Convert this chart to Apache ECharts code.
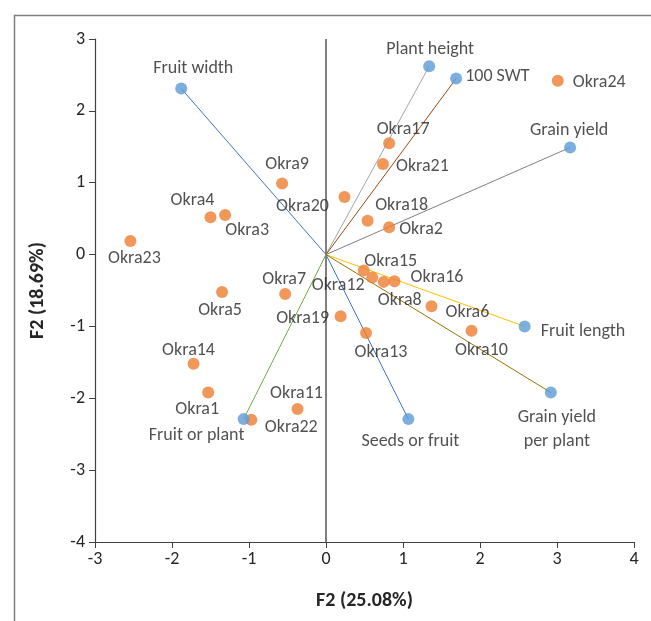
<!DOCTYPE html>
<html>
<head>
<meta charset="utf-8">
<script src="https://cdn.jsdelivr.net/npm/echarts@6/dist/echarts.min.js"></script>
<style>html,body{margin:0;padding:0;background:#fff;}#c{width:651px;height:621px;}</style>
</head>
<body>
<div id="c"></div>
<script>
// Observations (genotypes)
const okraNames = ['Okra1','Okra2','Okra3','Okra4','Okra5','Okra6','Okra7','Okra8','Okra9','Okra10','Okra11','Okra12','Okra13','Okra14','Okra15','Okra16','Okra17','Okra18','Okra19','Okra20','Okra21','Okra22','Okra23','Okra24'];
const okraX = [-1.53, 0.82, -1.31, -1.50, -1.35, 1.37, -0.53, 0.75, -0.57, 1.89, -0.37, 0.60, 0.52, -1.72, 0.49, 0.89, 0.82, 0.54, 0.19, 0.24, 0.74, -0.97, -2.54, 3.01];
const okraY = [-1.92, 0.38, 0.55, 0.52, -0.52, -0.72, -0.55, -0.38, 0.99, -1.06, -2.15, -0.32, -1.09, -1.52, -0.22, -0.37, 1.55, 0.47, -0.86, 0.80, 1.26, -2.30, 0.19, 2.42];
// Variables (loadings)
const varNames = ['Plant height','100 SWT','Fruit width','Grain yield','Fruit length','Grain yield\nper plant','Seeds or fruit','Fruit or plant'];
const varX = [1.34, 1.69, -1.88, 3.17, 2.58, 2.92, 1.07, -1.07];
const varY = [2.62, 2.45, 2.31, 1.49, -1.00, -1.92, -2.29, -2.29];
const varLineColors = ['#A5A5A5','#9E480E','#4472C4','#7F7F7F','#FFC000','#997300','#4472C4','#70AD47'];
// Axis ticks
const xTicks = [-3,-2,-1,0,1,2,3,4];
const yTicks = [-4,-3,-2,-1,0,1,2,3];
const xTitle = 'F2 (25.08%)';
const yTitle = 'F2 (18.69%)';

const FONT = 'Carlito, Lato, "Liberation Sans", sans-serif';
const TXT = '#262626';

// label placement (center offsets in px, or side placement)
const okraLab = {
  Okra24:['right',9,2], Okra17:['c',14,-14], Okra21:['right',7,2], Okra9:['c',5,-19],
  Okra20:['c',-42,9], Okra4:['c',-18,-17], Okra3:['c',22,15], Okra18:['c',34,-15],
  Okra2:['right',4,2], Okra23:['c',4,18], Okra15:['c',27,-9], Okra12:['c',-34,8],
  Okra16:['right',10,-4], Okra8:['c',16,19], Okra6:['c',36,6], Okra10:['c',10,20],
  Okra7:['c',-1,-15], Okra5:['c',-2,19], Okra19:['c',-38,2], Okra13:['c',15,20],
  Okra14:['c',-5,-13], Okra1:['c',-11,17], Okra22:['c',40,8], Okra11:['c',-1,-16]
};
const varLab = {
  'Plant height':['c',1,-17], '100 SWT':['right',3,-2], 'Fruit width':['c',12,-20],
  'Grain yield':['c',-1,-17], 'Fruit length':['right',10,5], 'Grain yield\nper plant':['c',6,37],
  'Seeds or fruit':['c',2,22], 'Fruit or plant':['c',-47,16]
};
function lab(spec){
  if(spec[0]==='right'){
    return {show:true, position:'right', distance:spec[1], offset:[0,spec[2]]};
  }
  return {show:true, position:'inside', offset:[spec[1],spec[2]], align:'center', verticalAlign:'middle'};
}

const series = [];
// vector lines
varNames.forEach((n,i)=>{
  series.push({
    type:'line', data:[[0,0],[varX[i],varY[i]]], showSymbol:false, symbol:'none',
    lineStyle:{color:varLineColors[i], width:1}, silent:true, z:2, animation:false
  });
});
// zero vertical line
series.push({
  type:'line', data:[[0,yTicks[0]],[0,yTicks[yTicks.length-1]]], symbol:'none', showSymbol:false,
  lineStyle:{color:'#000', width:1}, z:1, silent:true, animation:false
});
series.push({
  type:'scatter', symbolSize:12, z:5, animation:false,
  itemStyle:{color:'#ED7D31'},
  label:{color:TXT, fontFamily:FONT, fontSize:18},
  data: okraNames.map((n,i)=>({name:n, value:[okraX[i],okraY[i]], label:Object.assign(lab(okraLab[n]),{formatter:n})}))
});
series.push({
  type:'scatter', symbolSize:12, z:6, animation:false,
  itemStyle:{color:'#5B9BD5'},
  label:{color:TXT, fontFamily:FONT, fontSize:18, lineHeight:24},
  data: varNames.map((n,i)=>({name:n, value:[varX[i],varY[i]], label:Object.assign(lab(varLab[n]),{formatter:n})}))
});

const chart = echarts.init(document.getElementById('c'), null, {renderer:'canvas'});
chart.setOption({
  animation:false,
  backgroundColor:'#fff',
  graphic:[{type:'rect', left:12, top:13, shape:{width:700,height:700}, style:{fill:'none', stroke:'#7F7F7F', lineWidth:1.5}, silent:true}],
  grid:{left:95, right:17, top:39, bottom:79},
  xAxis:{
    type:'value', min:xTicks[0], max:xTicks[xTicks.length-1], interval:1,
    axisLine:{onZero:false, lineStyle:{color:'#404040', width:1.2}},
    axisTick:{show:true, inside:false, length:6, lineStyle:{color:'#404040'}},
    axisLabel:{color:TXT, fontFamily:FONT, fontSize:18, margin:8},
    splitLine:{show:false},
    name:xTitle, nameLocation:'middle', nameGap:49,
    nameTextStyle:{color:TXT, fontFamily:FONT, fontSize:20, fontWeight:'bold'}
  },
  yAxis:{
    type:'value', min:yTicks[0], max:yTicks[yTicks.length-1], interval:1,
    axisLine:{onZero:false, lineStyle:{color:'#404040', width:1.2}},
    axisTick:{show:true, inside:false, length:6, lineStyle:{color:'#404040'}},
    axisLabel:{color:TXT, fontFamily:FONT, fontSize:18, margin:10},
    splitLine:{show:false},
    name:yTitle, nameLocation:'middle', nameGap:47, nameRotate:90,
    nameTextStyle:{color:TXT, fontFamily:FONT, fontSize:20, fontWeight:'bold'}
  },
  series:series
});
</script>
</body>
</html>
